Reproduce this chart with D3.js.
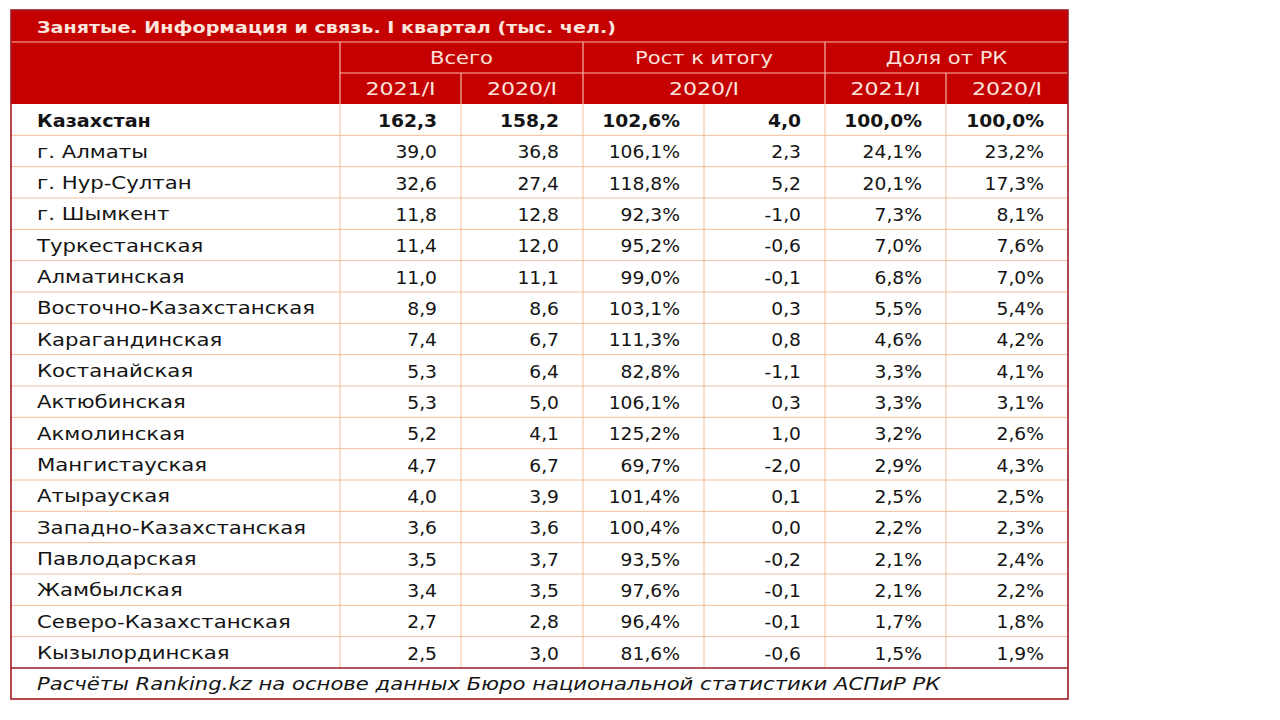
<!DOCTYPE html>
<html><head><meta charset="utf-8">
<script src="https://cdn.jsdelivr.net/npm/d3@7"></script>
<style>body{margin:0;background:#fff}svg{display:block}text{font-family:"DejaVu Sans",sans-serif}</style>
</head><body><svg id="c" width="1280" height="720"></svg>
<script>
const title = "Занятые. Информация и связь. I квартал (тыс. чел.)";
const groupHeaders = ["Всего", "Рост к итогу", "Доля от РК"];
const subHeaders = ["2021/I", "2020/I", "2020/I", "2021/I", "2020/I"];
const footer = "Расчёты Ranking.kz на основе данных Бюро национальной статистики АСПиР РК";
const regions = ["Казахстан","г. Алматы","г. Нур-Султан","г. Шымкент","Туркестанская","Алматинская","Восточно-Казахстанская","Карагандинская","Костанайская","Актюбинская","Акмолинская","Мангистауская","Атырауская","Западно-Казахстанская","Павлодарская","Жамбылская","Северо-Казахстанская","Кызылординская"];
const total2021 = [162.3,39.0,32.6,11.8,11.4,11.0,8.9,7.4,5.3,5.3,5.2,4.7,4.0,3.6,3.5,3.4,2.7,2.5];
const total2020 = [158.2,36.8,27.4,12.8,12.0,11.1,8.6,6.7,6.4,5.0,4.1,6.7,3.9,3.6,3.7,3.5,2.8,3.0];
const growthPct = [102.6,106.1,118.8,92.3,95.2,99.0,103.1,111.3,82.8,106.1,125.2,69.7,101.4,100.4,93.5,97.6,96.4,81.6];
const growthAbs = [4.0,2.3,5.2,-1.0,-0.6,-0.1,0.3,0.8,-1.1,0.3,1.0,-2.0,0.1,0.0,-0.2,-0.1,-0.1,-0.6];
const share2021 = [100.0,24.1,20.1,7.3,7.0,6.8,5.5,4.6,3.3,3.3,3.2,2.9,2.5,2.2,2.1,2.1,1.7,1.5];
const share2020 = [100.0,23.2,17.3,8.1,7.6,7.0,5.4,4.2,4.1,3.1,2.6,4.3,2.5,2.3,2.4,2.2,1.8,1.9];

const RED = "#c40000", DARK = "#9e1a24", GRID = "#f1bf9c", HEADTXT = "#fde4dc";
const svg = d3.select("#c");
const L = 11, R = 1068, T = 10;
const colEdges = [L, 340, 461, 583, 704, 825, 946, R];
const titleH = 32, h1 = 31, h2 = 31;
const bodyTop = T + titleH + h1 + h2;
const y = d3.scaleBand().domain(regions).range([bodyTop, 668]);
const footTop = 668, footBot = 699;
const fmt = v => d3.format(".1f")(v).replace(".", ",").replace("−","-");
const pct = v => fmt(v) + "%";

function txt(g, x, yy, s, o = {}) {
  const sx = o.sx || 1.16;
  return g.append("text").attr("transform", `translate(${x},${yy}) scale(${sx},1)`)
    .attr("text-anchor", o.anchor || "start").attr("dominant-baseline", "central")
    .attr("font-size", o.size || 17).attr("font-weight", o.weight || "normal")
    .attr("font-style", o.style || "normal").attr("fill", o.fill || "#141414").text(s);
}

// header block
svg.append("rect").attr("x", L).attr("y", T).attr("width", R - L).attr("height", titleH + h1 + h2).attr("fill", RED);
txt(svg, 37, T + titleH / 2 + 1, title, {size: 16.5, weight: "bold", fill: HEADTXT, sx: 1.16});
const hl = svg.append("g").attr("stroke", "#f6b7a6").attr("stroke-width", 1.2);
hl.append("line").attr("x1", L).attr("x2", R).attr("y1", T + titleH).attr("y2", T + titleH);
hl.append("line").attr("x1", colEdges[1]).attr("x2", R).attr("y1", T + titleH + h1).attr("y2", T + titleH + h1);
[1, 3, 5].forEach(i => hl.append("line").attr("x1", colEdges[i]).attr("x2", colEdges[i]).attr("y1", T + titleH).attr("y2", bodyTop));
[2, 6].forEach(i => hl.append("line").attr("x1", colEdges[i]).attr("x2", colEdges[i]).attr("y1", T + titleH + h1).attr("y2", bodyTop));
groupHeaders.forEach((s, k) => {
  const a = colEdges[1 + 2 * k], b = colEdges[3 + 2 * k];
  txt(svg, (a + b) / 2, T + titleH + h1 / 2 + 1, s, {anchor: "middle", fill: HEADTXT, size: 17, sx: 1.24});
});
const subSpans = [[1, 2], [2, 3], [3, 5], [5, 6], [6, 7]];
subHeaders.forEach((s, k) => {
  const [i, j] = subSpans[k];
  txt(svg, (colEdges[i] + colEdges[j]) / 2, T + titleH + h1 + h2 / 2 + 1, s, {anchor: "middle", fill: HEADTXT, size: 17, sx: 1.3});
});

// body grid
const grid = svg.append("g").attr("stroke", GRID).attr("stroke-width", 1);
regions.forEach((r, i) => { if (i > 0) grid.append("line").attr("x1", L).attr("x2", R).attr("y1", y(r)).attr("y2", y(r)); });
colEdges.slice(1, -1).forEach(x => grid.append("line").attr("x1", x).attr("x2", x).attr("y1", bodyTop).attr("y2", footTop));

const cols = [total2021.map(fmt), total2020.map(fmt), growthPct.map(pct), growthAbs.map(fmt), share2021.map(pct), share2020.map(pct)];
const body = svg.append("g");
regions.forEach((r, i) => {
  const cy = y(r) + y.bandwidth() / 2 + 1;
  const w = i === 0 ? "bold" : "normal";
  txt(body, 37, cy, r, {weight: w, sx: i === 0 ? 1.13 : 1.25});
  cols.forEach((c, k) => txt(body, colEdges[k + 2] - 24, cy, c[i], {anchor: "end", weight: w, sx: 1.1}));
});

// footer
txt(svg, 37, (footTop + footBot) / 2 + 1, footer, {style: "italic", size: 17, sx: 1.245});

// dark outer borders
const ob = svg.append("g").attr("stroke", DARK).attr("stroke-width", 1.6).attr("fill", "none");
ob.append("rect").attr("x", L).attr("y", T).attr("width", R - L).attr("height", footBot - T);
ob.append("line").attr("x1", L).attr("x2", R).attr("y1", footTop).attr("y2", footTop);
</script></body></html>
